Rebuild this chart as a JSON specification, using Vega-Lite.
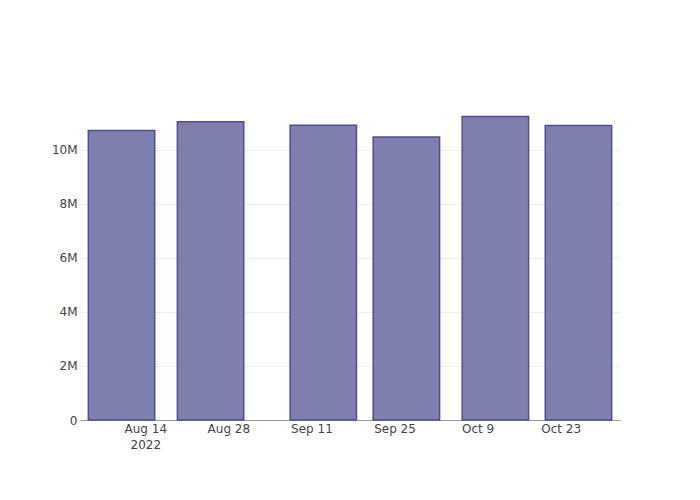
{
  "$schema": "https://vega.github.io/schema/vega-lite/v6.json",
  "autosize": {"type": "none"},
  "padding": {"left": 80, "top": 100, "right": 80, "bottom": 80},
  "width": 540,
  "height": 320,
  "background": "white",
  "config": {
    "view": {"stroke": null},
    "font": "DejaVu Sans"
  },
  "data": {
    "values": [
      {"date": "2022-08-10", "value": 10700000},
      {"date": "2022-08-25", "value": 11030000},
      {"date": "2022-09-13", "value": 10900000},
      {"date": "2022-09-27", "value": 10460000},
      {"date": "2022-10-12", "value": 11220000},
      {"date": "2022-10-26", "value": 10890000}
    ]
  },
  "mark": {"type": "bar", "width": 66.4, "fill": "#7f7faf", "stroke": "#4f4f8f", "strokeWidth": 1.5},
  "encoding": {
    "x": {
      "field": "date",
      "type": "temporal",
      "scale": {
        "type": "utc",
        "padding": 0,
        "nice": false,
        "domain": [
          {"year": 2022, "month": 8, "date": 3, "utc": true},
          {"year": 2022, "month": 11, "date": 2, "utc": true}
        ]
      },
      "axis": {
        "title": null,
        "values": [
          {"year": 2022, "month": 8, "date": 14, "utc": true},
          {"year": 2022, "month": 8, "date": 28, "utc": true},
          {"year": 2022, "month": 9, "date": 11, "utc": true},
          {"year": 2022, "month": 9, "date": 25, "utc": true},
          {"year": 2022, "month": 10, "date": 9, "utc": true},
          {"year": 2022, "month": 10, "date": 23, "utc": true}
        ],
        "labelExpr": "utcFormat(datum.value, '%b %d') == 'Aug 14' ? ['Aug 14', '2022'] : utcFormat(datum.value, '%b %-d')",
        "ticks": false,
        "tickSize": 0,
        "labelPadding": 3,
        "labelLineHeight": 16,
        "labelFontSize": 12,
        "labelColor": "#444",
        "labelFont": "DejaVu Sans",
        "domainColor": "#999",
        "domainWidth": 1,
        "grid": false
      }
    },
    "y": {
      "field": "value",
      "type": "quantitative",
      "scale": {"domain": [0, 11830000], "nice": false},
      "axis": {
        "title": null,
        "values": [0, 2000000, 4000000, 6000000, 8000000, 10000000],
        "labelExpr": "datum.value == 0 ? '0' : format(datum.value, '~s')",
        "ticks": false,
        "tickSize": 0,
        "labelPadding": 3,
        "labelFontSize": 12,
        "labelColor": "#444",
        "labelFont": "DejaVu Sans",
        "domain": false,
        "grid": true,
        "gridColor": "#eeeeee",
        "gridWidth": 1
      }
    }
  }
}
